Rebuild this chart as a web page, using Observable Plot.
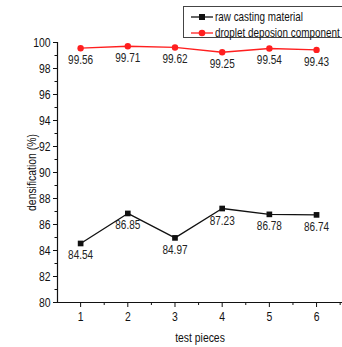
<!DOCTYPE html>
<html><head>
<meta charset="utf-8">
<script src="https://cdn.jsdelivr.net/npm/d3@7"></script>
<script src="https://cdn.jsdelivr.net/npm/@observablehq/plot@0.6"></script>
<style>
body{margin:0;background:#fff;}
#wrap{position:relative;width:342px;height:347px;overflow:hidden;font-family:"Liberation Sans",Arial,sans-serif;}
#legend{position:absolute;left:183px;top:6px;width:200px;height:30px;border:1px solid #444;background:#fff;font-size:13px;color:#111;}
#legend .row{position:absolute;left:7px;height:14px;line-height:14px;white-space:nowrap;display:flex;align-items:center;}
#legend svg{margin-right:2px;flex:none;}
#legend span{display:inline-block;transform:scaleX(0.76);transform-origin:left center;}
</style></head>
<body><div id="wrap"><div id="legend"></div></div>
<script>
const pieces = [1, 2, 3, 4, 5, 6];
const rawCasting = [84.54, 86.85, 84.97, 87.23, 86.78, 86.74];
const droplet = [99.56, 99.71, 99.62, 99.25, 99.54, 99.43];
const seriesNames = ["raw casting material", "droplet deposion component"];
const seriesColors = ["#111111", "#ff1f1f"];
const seriesSymbols = ["square", "circle"];
const yTicks = [80, 82, 84, 86, 88, 90, 92, 94, 96, 98, 100];
const yMinorTicks = [81, 83, 85, 87, 89, 91, 93, 95, 97, 99];
const xTicks = [1, 2, 3, 4, 5, 6];
const xMinorTicks = [1.5, 2.5, 3.5, 4.5, 5.5, 6.5];

const data = [];
pieces.forEach((p, i) => {
  data.push({piece: p, value: rawCasting[i], series: seriesNames[0]});
  data.push({piece: p, value: droplet[i], series: seriesNames[1]});
});
const fmt = d3.format(".2f");

const chart = Plot.plot({
  width: 342,
  height: 347,
  marginLeft: 57,
  marginRight: 0,
  marginTop: 42,
  marginBottom: 45,
  style: {fontFamily: '"Liberation Sans",Arial,sans-serif', fontSize: "13px", color: "#111", background: "#fff"},
  x: {domain: [0.51, 6.55]},
  y: {domain: [80, 100]},
  color: {domain: seriesNames, range: seriesColors},
  symbol: {domain: seriesNames, range: seriesSymbols},
  marks: [
    Plot.axisY({ticks: yTicks, tickSize: 4, tickPadding: 3, tickFormat: "d", label: "densification (%)", labelAnchor: "center", labelArrow: "none", labelOffset: 31, stroke: "#111", fontSize: 13}),
    Plot.axisY({ticks: yMinorTicks, tickSize: 2.5, text: null, label: null, stroke: "#111"}),
    Plot.axisX({ticks: xTicks, tickSize: 5, tickPadding: 4, tickFormat: "d", label: "test pieces", labelAnchor: "center", labelArrow: "none", labelOffset: 39, stroke: "#111", fontSize: 13}),
    Plot.axisX({ticks: xMinorTicks, tickSize: 3, text: null, label: null, stroke: "#111"}),
    Plot.ruleY([80], {stroke: "#111", strokeWidth: 1.2}),
    Plot.ruleX([0.51], {y1: 80, y2: 100, stroke: "#111", strokeWidth: 1.2}),
    Plot.line(data, {x: "piece", y: "value", z: "series", stroke: "series", strokeWidth: 1.3}),
    Plot.dot(data, {x: "piece", y: "value", fill: "series", symbol: "series", r: 3.2}),
    Plot.text(data, {x: "piece", y: "value", text: d => fmt(d.value), dy: 12, fontSize: 12.5, fill: "#222"})
  ]
});
document.getElementById("wrap").prepend(chart);

// narrow the glyphs to mimic the condensed face of the reference
chart.querySelectorAll("text").forEach(t => {
  const len = t.getComputedTextLength();
  if (len > 0) {
    t.setAttribute("textLength", (len * 0.8).toFixed(2));
    t.setAttribute("lengthAdjust", "spacingAndGlyphs");
  }
});

const legend = document.getElementById("legend");
seriesNames.forEach((name, i) => {
  const row = document.createElement("div");
  row.className = "row";
  row.style.top = (3 + i * 16) + "px";
  const sym = seriesSymbols[i] === "square"
    ? `<rect x="8" y="4" width="6" height="6" fill="${seriesColors[i]}"/>`
    : `<circle cx="11" cy="7" r="3.3" fill="${seriesColors[i]}"/>`;
  row.innerHTML = `<svg width="22" height="14"><line x1="0" x2="22" y1="7" y2="7" stroke="${seriesColors[i]}" stroke-width="1.3"/>${sym}</svg><span>${name}</span>`;
  legend.appendChild(row);
});
</script>
</body></html>
